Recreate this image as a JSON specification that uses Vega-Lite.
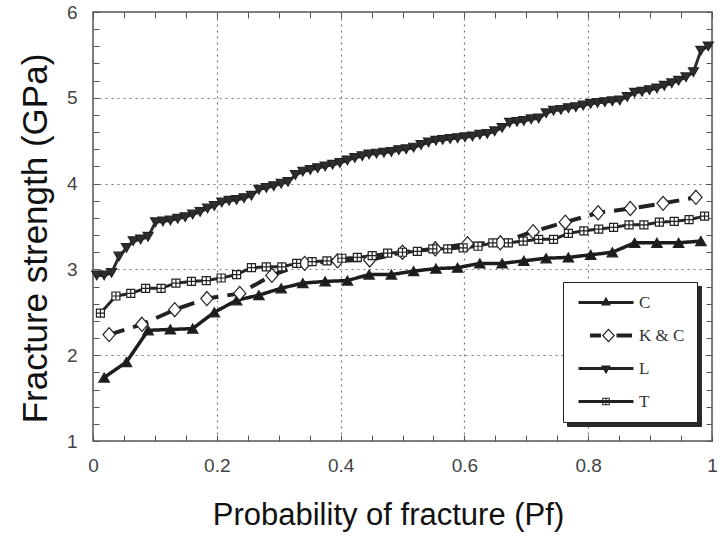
{
  "$schema": "https://vega.github.io/schema/vega-lite/v6.json",
  "width": 619,
  "height": 429,
  "autosize": {"type": "none"},
  "padding": {"left": 93, "top": 12, "right": 13, "bottom": 100},
  "background": "white",
  "config": {
    "view": {"stroke": "#555", "strokeWidth": 1.5},
    "axis": {
      "domain": false,
      "labelFont": "Liberation Sans, Arial, sans-serif",
      "labelFontSize": 19,
      "labelColor": "#444",
      "tickColor": "#555",
      "tickWidth": 1,
      "tickSize": -6,
      "gridColor": "#777",
      "gridDash": [2, 4],
      "gridWidth": 1.2,
      "titleFont": "Liberation Sans, Arial, sans-serif",
      "titleFontWeight": "normal",
      "titleColor": "#111"
    },
    "legend": {
      "orient": "none",
      "title": null,
      "padding": 12,
      "rowPadding": 15,
      "labelFont": "Liberation Serif, Times New Roman, serif",
      "labelFontSize": 17,
      "labelColor": "#333",
      "labelOffset": 47,
      "symbolSize": 100,
      "symbolStrokeWidth": 0
    }
  },
  "data": {
    "values": [
      {"series": "C", "pf": 0.018, "gpa": 1.74},
      {"series": "C", "pf": 0.054, "gpa": 1.92},
      {"series": "C", "pf": 0.089, "gpa": 2.29},
      {"series": "C", "pf": 0.125, "gpa": 2.30},
      {"series": "C", "pf": 0.161, "gpa": 2.31},
      {"series": "C", "pf": 0.196, "gpa": 2.50},
      {"series": "C", "pf": 0.232, "gpa": 2.64},
      {"series": "C", "pf": 0.268, "gpa": 2.70},
      {"series": "C", "pf": 0.304, "gpa": 2.78},
      {"series": "C", "pf": 0.339, "gpa": 2.84},
      {"series": "C", "pf": 0.375, "gpa": 2.86},
      {"series": "C", "pf": 0.411, "gpa": 2.87},
      {"series": "C", "pf": 0.446, "gpa": 2.94},
      {"series": "C", "pf": 0.482, "gpa": 2.94},
      {"series": "C", "pf": 0.518, "gpa": 2.98},
      {"series": "C", "pf": 0.554, "gpa": 3.01},
      {"series": "C", "pf": 0.589, "gpa": 3.02},
      {"series": "C", "pf": 0.625, "gpa": 3.07},
      {"series": "C", "pf": 0.661, "gpa": 3.07},
      {"series": "C", "pf": 0.696, "gpa": 3.10},
      {"series": "C", "pf": 0.732, "gpa": 3.13},
      {"series": "C", "pf": 0.768, "gpa": 3.14},
      {"series": "C", "pf": 0.804, "gpa": 3.17},
      {"series": "C", "pf": 0.839, "gpa": 3.20},
      {"series": "C", "pf": 0.875, "gpa": 3.31},
      {"series": "C", "pf": 0.911, "gpa": 3.31},
      {"series": "C", "pf": 0.946, "gpa": 3.31},
      {"series": "C", "pf": 0.982, "gpa": 3.33},

      {"series": "K & C", "pf": 0.026, "gpa": 2.24},
      {"series": "K & C", "pf": 0.079, "gpa": 2.36},
      {"series": "K & C", "pf": 0.132, "gpa": 2.53},
      {"series": "K & C", "pf": 0.184, "gpa": 2.66},
      {"series": "K & C", "pf": 0.237, "gpa": 2.72},
      {"series": "K & C", "pf": 0.289, "gpa": 2.93},
      {"series": "K & C", "pf": 0.342, "gpa": 3.07},
      {"series": "K & C", "pf": 0.395, "gpa": 3.10},
      {"series": "K & C", "pf": 0.447, "gpa": 3.11},
      {"series": "K & C", "pf": 0.500, "gpa": 3.20},
      {"series": "K & C", "pf": 0.553, "gpa": 3.24},
      {"series": "K & C", "pf": 0.605, "gpa": 3.30},
      {"series": "K & C", "pf": 0.658, "gpa": 3.31},
      {"series": "K & C", "pf": 0.711, "gpa": 3.44},
      {"series": "K & C", "pf": 0.763, "gpa": 3.55},
      {"series": "K & C", "pf": 0.816, "gpa": 3.66},
      {"series": "K & C", "pf": 0.868, "gpa": 3.71},
      {"series": "K & C", "pf": 0.921, "gpa": 3.77},
      {"series": "K & C", "pf": 0.974, "gpa": 3.84},

      {"series": "L", "pf": 0.006, "gpa": 2.93},
      {"series": "L", "pf": 0.018, "gpa": 2.93},
      {"series": "L", "pf": 0.030, "gpa": 2.96},
      {"series": "L", "pf": 0.042, "gpa": 3.15},
      {"series": "L", "pf": 0.054, "gpa": 3.25},
      {"series": "L", "pf": 0.065, "gpa": 3.33},
      {"series": "L", "pf": 0.077, "gpa": 3.35},
      {"series": "L", "pf": 0.089, "gpa": 3.38},
      {"series": "L", "pf": 0.101, "gpa": 3.55},
      {"series": "L", "pf": 0.113, "gpa": 3.56},
      {"series": "L", "pf": 0.125, "gpa": 3.57},
      {"series": "L", "pf": 0.137, "gpa": 3.59},
      {"series": "L", "pf": 0.149, "gpa": 3.61},
      {"series": "L", "pf": 0.161, "gpa": 3.64},
      {"series": "L", "pf": 0.173, "gpa": 3.67},
      {"series": "L", "pf": 0.185, "gpa": 3.71},
      {"series": "L", "pf": 0.196, "gpa": 3.74},
      {"series": "L", "pf": 0.208, "gpa": 3.78},
      {"series": "L", "pf": 0.220, "gpa": 3.80},
      {"series": "L", "pf": 0.232, "gpa": 3.81},
      {"series": "L", "pf": 0.244, "gpa": 3.83},
      {"series": "L", "pf": 0.256, "gpa": 3.86},
      {"series": "L", "pf": 0.268, "gpa": 3.93},
      {"series": "L", "pf": 0.280, "gpa": 3.95},
      {"series": "L", "pf": 0.292, "gpa": 3.97},
      {"series": "L", "pf": 0.304, "gpa": 4.00},
      {"series": "L", "pf": 0.315, "gpa": 4.02},
      {"series": "L", "pf": 0.327, "gpa": 4.10},
      {"series": "L", "pf": 0.339, "gpa": 4.14},
      {"series": "L", "pf": 0.351, "gpa": 4.16},
      {"series": "L", "pf": 0.363, "gpa": 4.18},
      {"series": "L", "pf": 0.375, "gpa": 4.20},
      {"series": "L", "pf": 0.387, "gpa": 4.22},
      {"series": "L", "pf": 0.399, "gpa": 4.24},
      {"series": "L", "pf": 0.411, "gpa": 4.27},
      {"series": "L", "pf": 0.423, "gpa": 4.30},
      {"series": "L", "pf": 0.435, "gpa": 4.32},
      {"series": "L", "pf": 0.446, "gpa": 4.34},
      {"series": "L", "pf": 0.458, "gpa": 4.35},
      {"series": "L", "pf": 0.470, "gpa": 4.36},
      {"series": "L", "pf": 0.482, "gpa": 4.37},
      {"series": "L", "pf": 0.494, "gpa": 4.39},
      {"series": "L", "pf": 0.506, "gpa": 4.40},
      {"series": "L", "pf": 0.518, "gpa": 4.42},
      {"series": "L", "pf": 0.530, "gpa": 4.45},
      {"series": "L", "pf": 0.542, "gpa": 4.48},
      {"series": "L", "pf": 0.554, "gpa": 4.50},
      {"series": "L", "pf": 0.565, "gpa": 4.51},
      {"series": "L", "pf": 0.577, "gpa": 4.52},
      {"series": "L", "pf": 0.589, "gpa": 4.53},
      {"series": "L", "pf": 0.601, "gpa": 4.54},
      {"series": "L", "pf": 0.613, "gpa": 4.55},
      {"series": "L", "pf": 0.625, "gpa": 4.57},
      {"series": "L", "pf": 0.637, "gpa": 4.58},
      {"series": "L", "pf": 0.649, "gpa": 4.61},
      {"series": "L", "pf": 0.661, "gpa": 4.65},
      {"series": "L", "pf": 0.673, "gpa": 4.71},
      {"series": "L", "pf": 0.685, "gpa": 4.72},
      {"series": "L", "pf": 0.696, "gpa": 4.73},
      {"series": "L", "pf": 0.708, "gpa": 4.75},
      {"series": "L", "pf": 0.720, "gpa": 4.76},
      {"series": "L", "pf": 0.732, "gpa": 4.82},
      {"series": "L", "pf": 0.744, "gpa": 4.85},
      {"series": "L", "pf": 0.756, "gpa": 4.86},
      {"series": "L", "pf": 0.768, "gpa": 4.88},
      {"series": "L", "pf": 0.780, "gpa": 4.89},
      {"series": "L", "pf": 0.792, "gpa": 4.91},
      {"series": "L", "pf": 0.804, "gpa": 4.93},
      {"series": "L", "pf": 0.815, "gpa": 4.94},
      {"series": "L", "pf": 0.827, "gpa": 4.95},
      {"series": "L", "pf": 0.839, "gpa": 4.96},
      {"series": "L", "pf": 0.851, "gpa": 4.97},
      {"series": "L", "pf": 0.863, "gpa": 5.01},
      {"series": "L", "pf": 0.875, "gpa": 5.06},
      {"series": "L", "pf": 0.887, "gpa": 5.07},
      {"series": "L", "pf": 0.899, "gpa": 5.09},
      {"series": "L", "pf": 0.911, "gpa": 5.11},
      {"series": "L", "pf": 0.923, "gpa": 5.14},
      {"series": "L", "pf": 0.935, "gpa": 5.17},
      {"series": "L", "pf": 0.946, "gpa": 5.20},
      {"series": "L", "pf": 0.958, "gpa": 5.24},
      {"series": "L", "pf": 0.970, "gpa": 5.30},
      {"series": "L", "pf": 0.982, "gpa": 5.55},
      {"series": "L", "pf": 0.994, "gpa": 5.60},

      {"series": "T", "pf": 0.012, "gpa": 2.49},
      {"series": "T", "pf": 0.037, "gpa": 2.69},
      {"series": "T", "pf": 0.061, "gpa": 2.72},
      {"series": "T", "pf": 0.085, "gpa": 2.78},
      {"series": "T", "pf": 0.110, "gpa": 2.78},
      {"series": "T", "pf": 0.134, "gpa": 2.84},
      {"series": "T", "pf": 0.159, "gpa": 2.86},
      {"series": "T", "pf": 0.183, "gpa": 2.87},
      {"series": "T", "pf": 0.207, "gpa": 2.90},
      {"series": "T", "pf": 0.232, "gpa": 2.94},
      {"series": "T", "pf": 0.256, "gpa": 3.02},
      {"series": "T", "pf": 0.280, "gpa": 3.03},
      {"series": "T", "pf": 0.305, "gpa": 3.03},
      {"series": "T", "pf": 0.329, "gpa": 3.07},
      {"series": "T", "pf": 0.354, "gpa": 3.09},
      {"series": "T", "pf": 0.378, "gpa": 3.10},
      {"series": "T", "pf": 0.402, "gpa": 3.13},
      {"series": "T", "pf": 0.427, "gpa": 3.14},
      {"series": "T", "pf": 0.451, "gpa": 3.16},
      {"series": "T", "pf": 0.476, "gpa": 3.19},
      {"series": "T", "pf": 0.500, "gpa": 3.20},
      {"series": "T", "pf": 0.524, "gpa": 3.21},
      {"series": "T", "pf": 0.549, "gpa": 3.24},
      {"series": "T", "pf": 0.573, "gpa": 3.24},
      {"series": "T", "pf": 0.598, "gpa": 3.25},
      {"series": "T", "pf": 0.622, "gpa": 3.27},
      {"series": "T", "pf": 0.646, "gpa": 3.31},
      {"series": "T", "pf": 0.671, "gpa": 3.31},
      {"series": "T", "pf": 0.695, "gpa": 3.33},
      {"series": "T", "pf": 0.720, "gpa": 3.35},
      {"series": "T", "pf": 0.744, "gpa": 3.35},
      {"series": "T", "pf": 0.768, "gpa": 3.42},
      {"series": "T", "pf": 0.793, "gpa": 3.45},
      {"series": "T", "pf": 0.817, "gpa": 3.47},
      {"series": "T", "pf": 0.841, "gpa": 3.49},
      {"series": "T", "pf": 0.866, "gpa": 3.52},
      {"series": "T", "pf": 0.890, "gpa": 3.52},
      {"series": "T", "pf": 0.915, "gpa": 3.55},
      {"series": "T", "pf": 0.939, "gpa": 3.56},
      {"series": "T", "pf": 0.963, "gpa": 3.58},
      {"series": "T", "pf": 0.988, "gpa": 3.62}
    ]
  },
  "layer": [
    {
      "mark": {"type": "line", "strokeCap": "butt", "strokeJoin": "round"},
      "encoding": {
        "x": {
          "field": "pf",
          "type": "quantitative",
          "scale": {"domain": [0, 1], "nice": false, "zero": false},
          "axis": {
            "orient": "bottom",
            "values": [0, 0.05, 0.1, 0.15, 0.2, 0.25, 0.3, 0.35, 0.4, 0.45, 0.5, 0.55, 0.6, 0.65, 0.7, 0.75, 0.8, 0.85, 0.9, 0.95, 1],
            "format": ".2~f",
            "labelExpr": "indexof(['0','0.2','0.4','0.6','0.8','1'], datum.label) >= 0 ? datum.label : ''",
            "labelPadding": 21,
            "labelFlush": false,
            "labelOverlap": false,
            "grid": true,
            "gridOpacity": {"condition": {"test": "abs(datum.value * 5 - round(datum.value * 5)) < 0.001", "value": 1}, "value": 0},
            "title": "Probability of fracture (Pf)",
            "titleFontSize": 31,
            "titleX": 295,
            "titleY": 74,
            "titleAlign": "center",
            "titleBaseline": "middle"
          }
        },
        "y": {
          "field": "gpa",
          "type": "quantitative",
          "scale": {"domain": [1, 6], "nice": false, "zero": false},
          "axis": {
            "orient": "left",
            "values": [1, 1.2, 1.4, 1.6, 1.8, 2, 2.2, 2.4, 2.6, 2.8, 3, 3.2, 3.4, 3.6, 3.8, 4, 4.2, 4.4, 4.6, 4.8, 5, 5.2, 5.4, 5.6, 5.8, 6],
            "format": ".1~f",
            "labelExpr": "abs(datum.value - round(datum.value)) < 0.001 ? datum.label : ''",
            "labelPadding": 22,
            "labelFlush": false,
            "labelOverlap": false,
            "grid": true,
            "gridOpacity": {"condition": {"test": "abs(datum.value - round(datum.value)) < 0.001", "value": 1}, "value": 0},
            "title": "Fracture strength (GPa)",
            "titleFontSize": 35,
            "titleX": -58,
            "titleY": 226,
            "titleAlign": "center",
            "titleBaseline": "middle",
            "titleAngle": -90
          }
        },
        "stroke": {
          "field": "series",
          "type": "nominal",
          "scale": {"range": ["#1c1c1c", "#222222", "#2e2e2e", "#262626"]},
          "legend": {
            "legendX": 474,
            "legendY": 274,
            "fillColor": "#2a2a2a",
            "strokeColor": "#2a2a2a",
            "labelOpacity": 0,
            "symbolOpacity": 0,
            "symbolType": "M-1,-1.4H10V1.4H-1Z"
          }
        },
        "strokeDash": {
          "field": "series",
          "type": "nominal",
          "scale": {"domain": ["C", "K & C", "L", "T"], "range": [[1, 0], [16, 9], [1, 0], [1, 0]]},
          "legend": null
        },
        "strokeWidth": {
          "field": "series",
          "type": "nominal",
          "scale": {"type": "ordinal", "domain": ["C", "K & C", "L", "T"], "range": [3.5, 4, 3, 3]},
          "legend": null
        },
        "order": {"field": "pf", "type": "quantitative"}
      }
    },
    {
      "mark": {"type": "point", "filled": true, "stroke": "#222222", "strokeWidth": 1.2, "opacity": 1},
      "encoding": {
        "x": {
          "field": "pf",
          "type": "quantitative",
          "axis": {
            "orient": "top",
            "values": [0, 0.05, 0.1, 0.15, 0.2, 0.25, 0.3, 0.35, 0.4, 0.45, 0.5, 0.55, 0.6, 0.65, 0.7, 0.75, 0.8, 0.85, 0.9, 0.95, 1],
            "labels": false,
            "grid": false,
            "title": null
          }
        },
        "y": {
          "field": "gpa",
          "type": "quantitative",
          "axis": {
            "orient": "right",
            "values": [1, 1.2, 1.4, 1.6, 1.8, 2, 2.2, 2.4, 2.6, 2.8, 3, 3.2, 3.4, 3.6, 3.8, 4, 4.2, 4.4, 4.6, 4.8, 5, 5.2, 5.4, 5.6, 5.8, 6],
            "labels": false,
            "grid": false,
            "title": null
          }
        },
        "shape": {
          "field": "series",
          "type": "nominal",
          "scale": {"domain": ["C", "K & C", "L", "T"], "range": ["triangle-up", "M0,-1.15L1,0L0,1.15L-1,0Z", "triangle-down", "M-1,-1H1V1H-1Z M0,-1V1 M-1,0H1"]},
          "legend": null
        },
        "fill": {
          "field": "series",
          "type": "nominal",
          "scale": {"domain": ["C", "K & C", "L", "T"], "range": ["#1c1c1c", "white", "#2e2e2e", "white"]},
          "legend": null
        },
        "size": {
          "field": "series",
          "type": "nominal",
          "scale": {"type": "ordinal", "domain": ["C", "K & C", "L", "T"], "range": [110, 150, 100, 64]},
          "legend": null
        }
      }
    },
    {
      "transform": [{"filter": "datum.series === 'key'"}],
      "mark": {"type": "point", "filled": true, "color": "#222222", "strokeWidth": 0},
      "encoding": {
        "x": {"field": "pf", "type": "quantitative", "axis": null},
        "y": {"field": "gpa", "type": "quantitative", "axis": null},
        "shape": {
          "field": "series",
          "type": "nominal",
          "scale": {
            "domain": ["C", "K & C", "L", "T"],
            "range": [
              "M-1,-0.3H10V0.3H-1Z M4.5,-1.15L5.5,0.6L3.5,0.6Z",
              "M1.3,-0.4H3.5V0.4H1.3Z M5,-1.4L6.3,0L5,1.4L3.7,0Z M5,-1.05L4.03,0L5,1.05L5.97,0Z M6.6,-0.4H9.7V0.4H6.6Z",
              "M-1,-0.3H10V0.3H-1Z M3.5,-0.6L5.5,-0.6L4.5,1.15Z",
              "M-1,-0.3H10V0.3H-1Z M3.75,-0.75H5.25V0.75H3.75Z M3.95,-0.55V-0.1H4.4V-0.55Z M4.6,-0.55V-0.1H5.05V-0.55Z M3.95,0.1V0.55H4.4V0.1Z M4.6,0.1V0.55H5.05V0.1Z"
            ]
          },
          "legend": {
            "legendX": 470,
            "legendY": 270,
            "fillColor": "white",
            "strokeColor": "#222222",
            "symbolFillColor": "#222222",
            "symbolStrokeColor": "transparent",
            "symbolOpacity": 1
          }
        }
      }
    }
  ],
  "resolve": {
    "scale": {"shape": "independent"},
    "axis": {"x": "independent", "y": "independent"}
  }
}
